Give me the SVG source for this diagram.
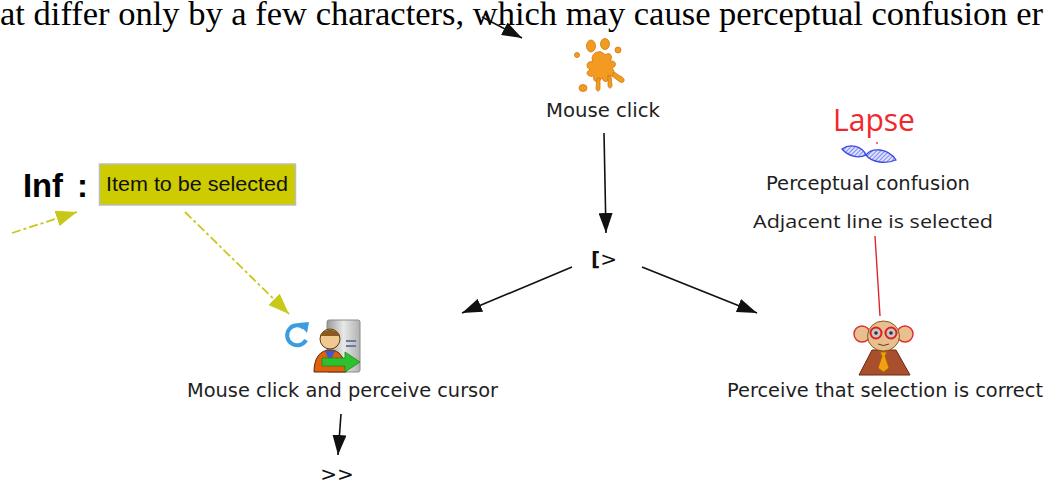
<svg xmlns="http://www.w3.org/2000/svg" width="1047" height="484" viewBox="0 0 1047 484">
<style>
.lbl{font-family:"DejaVu Sans",Verdana,sans-serif;font-size:19.5px;fill:#1e1e1e}
.op{font-family:"DejaVu Sans",Verdana,sans-serif;font-size:20px;fill:#111}
.conn{stroke:#111;stroke-width:1.6;fill:none}
.inf{stroke:#c8c81a;stroke-width:1.8;fill:none;stroke-dasharray:9 3 3 3}
</style>
<defs>
<marker id="ah" markerUnits="userSpaceOnUse" markerWidth="22" markerHeight="14" refX="20" refY="7" orient="auto">
<path d="M0,0 L20,7 L0,14 Z" fill="#111"/>
</marker>
<marker id="ahy" markerUnits="userSpaceOnUse" markerWidth="22" markerHeight="16" refX="21" refY="8" orient="auto">
<path d="M0,0 L21,8 L0,16 Z" fill="#c8c81a"/>
</marker>
<pattern id="hatch" width="3" height="3" patternUnits="userSpaceOnUse" patternTransform="rotate(45)">
<rect width="3" height="3" fill="#dde0ff"/>
<line x1="0" y1="0" x2="0" y2="3" stroke="#3a4ce0" stroke-width="1.2"/>
</pattern>
<linearGradient id="tower" x1="0" y1="0" x2="1" y2="0">
<stop offset="0" stop-color="#9a9a9a"/>
<stop offset="0.5" stop-color="#e8e8e8"/>
<stop offset="1" stop-color="#b0b0b0"/>
</linearGradient>
</defs>

<text x="0" y="24.5" font-family="'Liberation Serif','Times New Roman',serif" font-size="33" fill="#000" textLength="1043" lengthAdjust="spacingAndGlyphs">at differ only by a few characters, which may cause perceptual confusion er</text>

<g id="connectors">
<line class="conn" x1="482" y1="17" x2="522" y2="38" marker-end="url(#ah)"/>
<line class="conn" x1="604" y1="133" x2="606" y2="233" marker-end="url(#ah)"/>
<line class="conn" x1="572" y1="267" x2="462" y2="313" marker-end="url(#ah)"/>
<line class="conn" x1="642" y1="267" x2="757" y2="313" marker-end="url(#ah)"/>
<line class="conn" x1="341" y1="414" x2="338" y2="455" marker-end="url(#ah)"/>
<line x1="875" y1="236" x2="880" y2="316" stroke="#e02424" stroke-width="1.4"/>
<line class="inf" x1="12" y1="233" x2="77" y2="212" marker-end="url(#ahy)"/>
<line class="inf" x1="185" y1="212" x2="289" y2="314" marker-end="url(#ahy)"/>
</g>

<g id="mouse-click">
<g fill="#f29a22" stroke="#d07a10" stroke-width="0.8">
<path d="M598,52 C602,50 604,56 607,54 C611,52 613,58 610,61 C616,60 618,66 612,68 C616,72 614,78 608,75 C610,82 604,84 602,78 C598,84 592,82 594,76 C588,78 584,72 590,70 C584,66 588,60 593,62 C590,56 595,52 598,52 Z"/>
<ellipse cx="591" cy="46" rx="4.5" ry="6"/>
<ellipse cx="605" cy="44" rx="4.5" ry="5.5"/>
<circle cx="618" cy="50" r="3"/>
<circle cx="577" cy="55" r="2.5"/>
<ellipse cx="583" cy="88" rx="4" ry="3.5"/>
<path d="M597,78 L600,78 L600,88 C600,92 596,92 596,88 Z"/>
<path d="M608,76 L611,76 L612,85 C612,89 608,89 608,85 Z"/>
<path d="M614,72 L620,76 C626,78 625,84 620,82 L612,76 Z"/>
</g>
<text class="lbl" x="603" y="117" text-anchor="middle" textLength="114" lengthAdjust="spacingAndGlyphs">Mouse click</text>
</g>

<g id="disabling-op">
<text class="op" x="604" y="266" text-anchor="middle" font-size="21"><tspan font-weight="bold">[</tspan>&gt;</text>
</g>

<g id="inf">
<text x="23" y="197" font-family="'Liberation Sans',Arial,sans-serif" font-weight="bold" font-size="33" fill="#000" textLength="40" lengthAdjust="spacingAndGlyphs">Inf</text>
<text x="77" y="197" font-family="'Liberation Sans',Arial,sans-serif" font-weight="bold" font-size="33" fill="#000">:</text>
<rect x="99.5" y="164" width="196" height="41" fill="#cccc00" stroke="#bdbdbd" stroke-width="1.5"/>
<text x="106" y="191" font-family="'Liberation Sans',Arial,sans-serif" font-size="20" fill="#111" textLength="182" lengthAdjust="spacingAndGlyphs">Item to be selected</text>
</g>

<g id="mouse-click-perceive">
<path d="M304,328 A10,10 0 1 0 306,340" fill="none" stroke="#3a9de0" stroke-width="4"/>
<path d="M298,323 L309,322 L307,333 Z" fill="#3a9de0"/>
<rect x="327" y="320" width="33" height="52" rx="2" fill="url(#tower)" stroke="#8a8a8a" stroke-width="1"/>
<rect x="346" y="340" width="10" height="2" fill="#6a7aa0"/>
<rect x="346" y="345" width="10" height="2" fill="#6a7aa0"/>
<path d="M314,372 C314,358 320,350 330,350 C340,350 345,358 346,372 Z" fill="#e0600e" stroke="#5a2a00" stroke-width="1"/>
<path d="M325,351 L330,362 L335,351 Z" fill="#3a5ad0"/>
<circle cx="330" cy="339" r="10" fill="#f0c890" stroke="#5a3a10" stroke-width="1"/>
<path d="M320,336 C322,328 338,328 340,336" fill="#8a5a20"/>
<path d="M322,358 L345,358 L345,352 L360,362 L345,372 L345,366 L322,366 Z" fill="#2ec02e" stroke="#1a8a1a" stroke-width="0.8"/>
<text class="lbl" x="342.5" y="397" text-anchor="middle" textLength="311" lengthAdjust="spacingAndGlyphs">Mouse click and perceive cursor</text>
</g>

<g id="enabling-op">
<text class="op" x="337" y="481" text-anchor="middle" font-size="20">&gt;&gt;</text>
</g>

<g id="lapse">
<text x="874" y="131" text-anchor="middle" font-family="'Open Sans','Liberation Sans',sans-serif" font-size="31" fill="#f2272c" textLength="82" lengthAdjust="spacingAndGlyphs">Lapse</text>
<path d="M842,149 C850,143 862,146 866,155 C858,159 848,156 842,149 Z" fill="url(#hatch)" stroke="#3a4ce0" stroke-width="1.3"/>
<path d="M866,155 C872,147 888,148 896,160 C886,164 872,163 866,155 Z" fill="url(#hatch)" stroke="#3a4ce0" stroke-width="1.3"/>
<circle cx="877" cy="143" r="0.9" fill="#c04040"/>
<text class="lbl" x="868" y="190" text-anchor="middle" textLength="204" lengthAdjust="spacingAndGlyphs">Perceptual confusion</text>
<text x="873" y="228" text-anchor="middle" font-family="'Open Sans','DejaVu Sans',sans-serif" font-size="18" fill="#1e1e1e" textLength="240" lengthAdjust="spacingAndGlyphs">Adjacent line is selected</text>
</g>

<g id="perceive-selection">
<circle cx="862" cy="334" r="8" fill="#e8c090" stroke="#e03030" stroke-width="1.5"/>
<circle cx="905" cy="334" r="8" fill="#e8c090" stroke="#e03030" stroke-width="1.5"/>
<path d="M859,375 L872,350 L896,350 L910,375 Z" fill="#a8502e" stroke="#6a2a10" stroke-width="1"/>
<ellipse cx="883.5" cy="336" rx="16" ry="15" fill="#e8c090" stroke="#8a5a20" stroke-width="1"/>
<circle cx="876" cy="333" r="5.5" fill="#c8c8c8" stroke="#e02020" stroke-width="2"/>
<circle cx="891" cy="333" r="5.5" fill="#c8c8c8" stroke="#e02020" stroke-width="2"/>
<circle cx="876" cy="333" r="1.8" fill="#333"/>
<circle cx="891" cy="333" r="1.8" fill="#333"/>
<path d="M878,344 Q883.5,347 889,344" fill="none" stroke="#6a3a10" stroke-width="1"/>
<path d="M880,352 L887,352 L885,356 L889,368 L883.5,372 L878,368 L882,356 Z" fill="#f0a010" stroke="#a06000" stroke-width="0.8"/>
<text class="lbl" x="885" y="397" text-anchor="middle" textLength="316" lengthAdjust="spacingAndGlyphs">Perceive that selection is correct</text>
</g>
</svg>
